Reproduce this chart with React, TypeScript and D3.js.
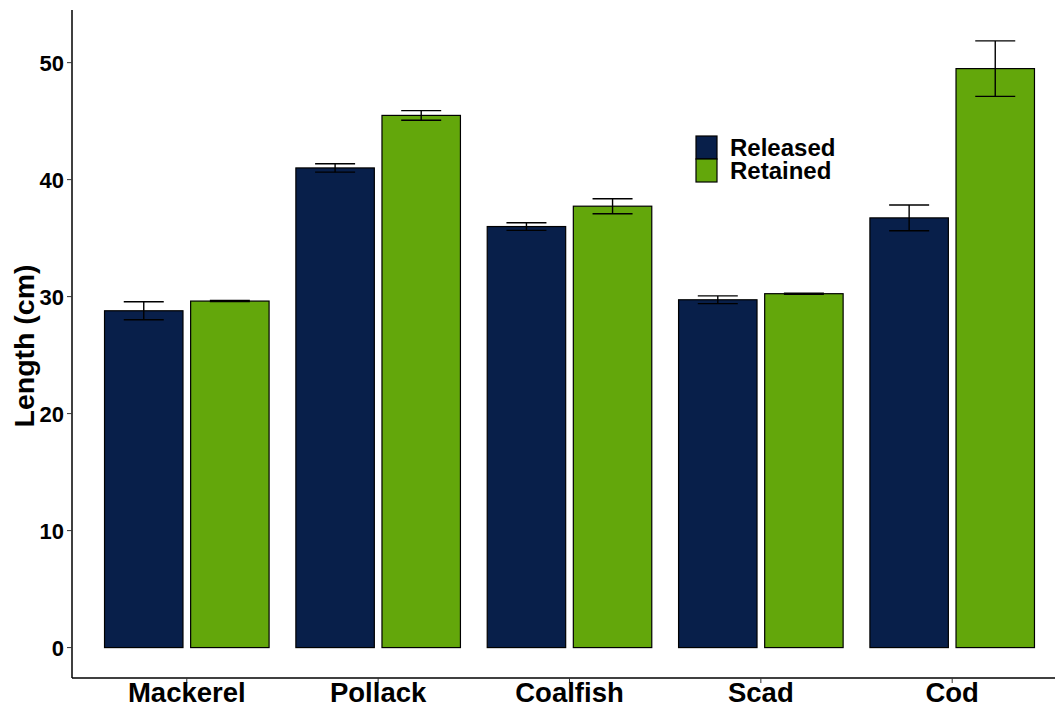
import React from "react";
import * as d3 from "d3";

const species = ["Mackerel", "Pollack", "Coalfish", "Scad", "Cod"];
const groups = ["Released", "Retained"];
const releasedMean = [28.79, 41.0, 35.99, 29.73, 36.73];
const releasedErr = [0.77, 0.36, 0.33, 0.33, 1.1];
const retainedMean = [29.62, 45.49, 37.73, 30.25, 49.49];
const retainedErr = [0.05, 0.41, 0.64, 0.05, 2.37];
const yTicks = [0, 10, 20, 30, 40, 50];

const colors = ["#081f4a", "#63a70b"];
const W = 1055;
const H = 708;
const font = "'Liberation Sans', Arial, sans-serif";

const App = () => {
  const x = d3.scaleBand().domain(species).range([72, 1067]).paddingInner(0).paddingOuter(0.1);
  const y = d3.scaleLinear().domain([-2.6, 54.5]).range([678, 10]);
  const step = x.step();
  const barW = step * 0.41;
  const offset = step * 0.225;
  const capW = 40;

  const rows = species.flatMap((s, i) => [
    { s, g: 0, v: releasedMean[i], e: releasedErr[i] },
    { s, g: 1, v: retainedMean[i], e: retainedErr[i] },
  ]);

  return (
    <svg width={W} height={H} style={{ position: "absolute", left: 0, top: 0 }} fontFamily={font}>
      <rect width={W} height={H} fill="#fff" />
      {rows.map((d, k) => {
        const cx = (x(d.s) as number) + x.bandwidth() / 2 + (d.g === 0 ? -offset : offset);
        return (
          <g key={k}>
            <rect x={cx - barW / 2} y={y(d.v)} width={barW} height={y(0) - y(d.v)} fill={colors[d.g]} stroke="#000" strokeWidth={1.2} />
            <line x1={cx} x2={cx} y1={y(d.v - d.e)} y2={y(d.v + d.e)} stroke="#000" strokeWidth={1.4} />
            <line x1={cx - capW / 2} x2={cx + capW / 2} y1={y(d.v + d.e)} y2={y(d.v + d.e)} stroke="#000" strokeWidth={1.4} />
            <line x1={cx - capW / 2} x2={cx + capW / 2} y1={y(d.v - d.e)} y2={y(d.v - d.e)} stroke="#000" strokeWidth={1.4} />
          </g>
        );
      })}
      {/* axes */}
      <line x1={72} x2={72} y1={10} y2={678} stroke="#000" strokeWidth={1.5} />
      <line x1={72} x2={W} y1={678} y2={678} stroke="#000" strokeWidth={1.5} />
      {yTicks.map((t) => (
        <g key={t}>
          <line x1={67} x2={72} y1={y(t)} y2={y(t)} stroke="#333" strokeWidth={1} />
          <text x={64} y={y(t)} dy="0.36em" textAnchor="end" fontSize={22} fontWeight="bold" fill="#000">
            {t}
          </text>
        </g>
      ))}
      {species.map((s) => {
        const cx = (x(s) as number) + x.bandwidth() / 2;
        return (
          <g key={s}>
            <line x1={cx} x2={cx} y1={678} y2={683} stroke="#333" strokeWidth={1} />
            <text x={cx} y={702} textAnchor="middle" fontSize={27.5} fontWeight="bold" fill="#000">
              {s}
            </text>
          </g>
        );
      })}
      <text transform={`translate(34,346) rotate(-90)`} textAnchor="middle" fontSize={28.5} fontWeight="bold" fill="#000">
        Length (cm)
      </text>
      {/* legend */}
      {groups.map((g, i) => (
        <g key={g} transform={`translate(696,${136 + i * 23})`}>
          <rect width={21} height={23} fill={colors[i]} stroke="#000" strokeWidth={1.2} />
          <text x={34} y={20} fontSize={24} fontWeight="bold" fill="#000">
            {g}
          </text>
        </g>
      ))}
    </svg>
  );
};

export default App;
